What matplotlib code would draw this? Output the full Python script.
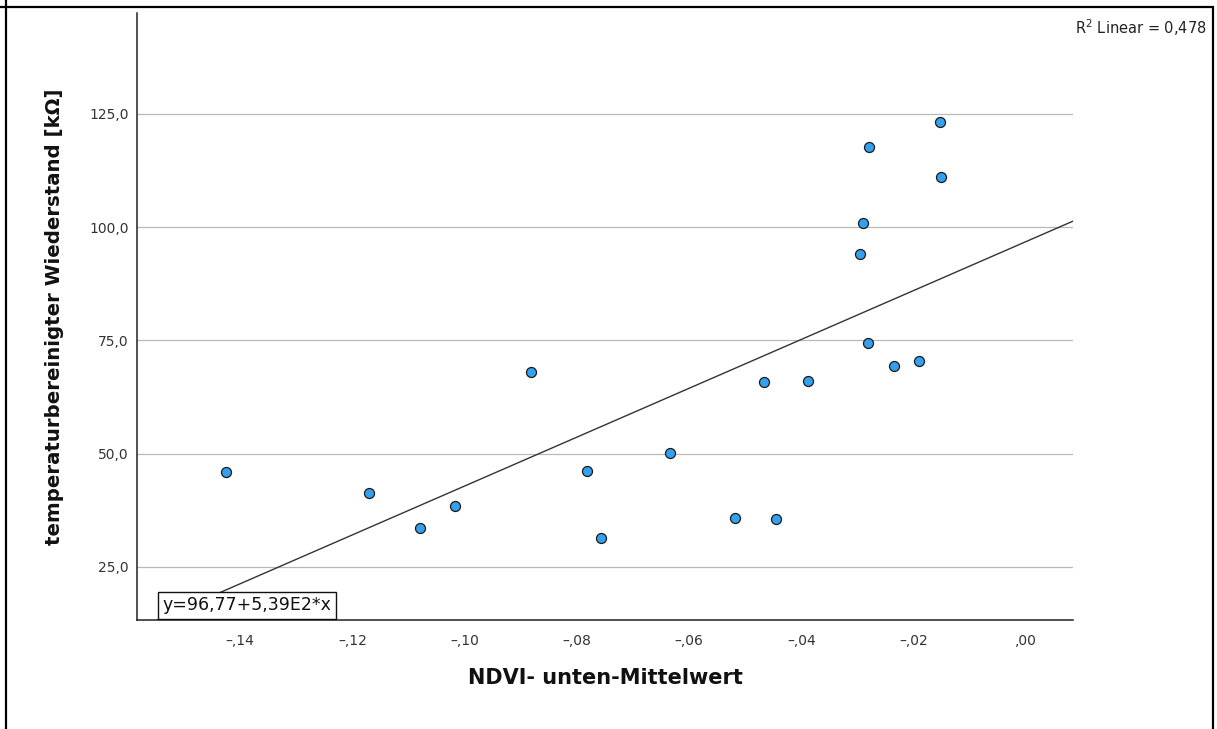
import matplotlib
matplotlib.use("Agg")
import matplotlib.pyplot as plt
from matplotlib.ticker import FuncFormatter
from matplotlib.lines import Line2D

# NDVI (unten, Mittelwert) vs. temperaturbereinigter Widerstand
ndvi = [-0.1426, -0.1170, -0.1079, -0.1017, -0.0882, -0.0783, -0.0758,
        -0.0634, -0.0518, -0.0446, -0.0466, -0.0388, -0.0153, -0.0279,
        -0.0151, -0.0291, -0.0295, -0.0281, -0.0235, -0.0190]
resistance = [46.0, 41.3, 33.6, 38.5, 68.0, 46.2, 31.3,
              50.1, 35.7, 35.5, 65.7, 66.0, 123.1, 117.7,
              111.0, 100.8, 94.0, 74.5, 69.4, 70.5]

INTERCEPT = 96.77
SLOPE = 539.0
R2 = 0.478

X_TICKS = [-0.14, -0.12, -0.10, -0.08, -0.06, -0.04, -0.02, 0.00]
Y_TICKS = [25, 50, 75, 100, 125]

COLOR_POINT = "#33a1ee"
COLOR_GRID = "#b9b9b9"
COLOR_TICK = "#333333"


def fmt_x(v, _pos):
    s = f"{abs(v):.2f}".lstrip("0").replace(".", ",")
    return ("\u2013" + s) if v < -1e-9 else s


def fmt_y(v, _pos):
    return f"{v:.1f}".replace(".", ",")


fig = plt.figure(figsize=(12.17, 7.29), dpi=100, facecolor="white")
ax = fig.add_axes([0.1126, 0.1495, 0.7691, 0.8326])

ax.scatter(ndvi, resistance, s=52, color=COLOR_POINT, edgecolor="#1a1a1a",
           linewidth=0.9, zorder=4)
ax.axline((0, INTERCEPT), slope=SLOPE, color="#333333", linewidth=1.0, zorder=3)

ax.set_xlim(-0.1584, 0.0084)
ax.set_ylim(13.3, 147.2)
ax.set_xticks(X_TICKS)
ax.set_yticks(Y_TICKS)
ax.xaxis.set_major_formatter(FuncFormatter(fmt_x))
ax.yaxis.set_major_formatter(FuncFormatter(fmt_y))
ax.tick_params(axis="both", length=0, labelsize=10, colors=COLOR_TICK)
ax.tick_params(axis="x", pad=10)
ax.tick_params(axis="y", pad=6)

ax.grid(axis="y", color=COLOR_GRID, linewidth=0.9)
ax.set_axisbelow(True)
for side in ("top", "right"):
    ax.spines[side].set_visible(False)
for side in ("left", "bottom"):
    ax.spines[side].set_color("#222222")
    ax.spines[side].set_linewidth(1.1)

ax.set_xlabel("NDVI- unten-Mittelwert", fontsize=15, fontweight="bold",
              color="#111111", va="center")
ax.xaxis.set_label_coords(0.5, -0.0956)
ax.set_ylabel("temperaturbereinigter Wiederstand [k\u03a9]", fontsize=14.2,
              fontweight="bold", color="#111111", va="center")
ax.yaxis.set_label_coords(-0.0887, 0.5)

ax.text(0.0272, 0.0095, f"y={INTERCEPT:.2f}+5,39E2*x".replace(".", ",", 1),
        transform=ax.transAxes, ha="left", va="bottom", fontsize=12.5,
        color="#111111", zorder=6,
        bbox=dict(boxstyle="square,pad=0.25", facecolor="white",
                  edgecolor="#111111", linewidth=1.0))

fig.text(0.8835, 0.962, f"R$^2$ Linear = {R2:.3f}".replace(".", ","),
         fontsize=10.5, color="#222222", ha="left", va="center")

# outer frame of the screenshot
frame = dict(color="black", linewidth=1.6, transform=fig.transFigure)
fig.add_artist(Line2D([0, 0.995], [0.990, 0.990], **frame))
fig.add_artist(Line2D([0.005, 0.005], [0, 1], **frame))
fig.add_artist(Line2D([0.9965, 0.9965], [0, 0.990], **frame))

fig.savefig("out.png", dpi=100, facecolor="white")
